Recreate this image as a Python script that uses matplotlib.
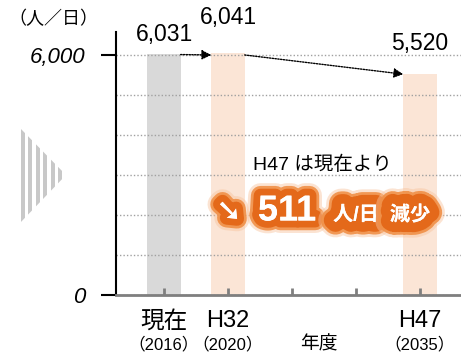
import matplotlib
matplotlib.use("Agg")
import matplotlib.pyplot as plt
import matplotlib.patheffects as pe
from matplotlib.patches import Polygon, Rectangle
from matplotlib.ticker import MultipleLocator

FONT = ["Liberation Sans", "Noto Sans CJK JP", "DejaVu Sans"]
plt.rcParams["font.family"] = FONT

# slots on the year axis (5 ticks), bars only on three of them
positions = [0, 1, 4]
values = [6031, 6041, 5520]
value_labels = ["6,031", "6,041", "5,520"]
bar_colors = ["#d9d9d9", "#fbe5d6", "#fbe5d6"]
tick_slots = [0, 1, 2, 3, 4]
top_labels = ["現在", "H32", "H47"]
year_labels = ["（2016）", "（2020）", "（2035）"]
y_ticks = [0, 6000]
y_tick_labels = ["0", "6,000"]
grid_step = 1000
decrease = 511

W, H = 461, 354
fig = plt.figure(figsize=(W / 100, H / 100), dpi=100)
ax = fig.add_axes([116 / W, 59 / H, 345 / W, 263 / H])

ax.bar(positions, values, width=0.52, color=bar_colors, zorder=1)

ax.set_xlim(-0.75, -0.75 + 345 / 64)
ax.set_ylim(0, 6575)

# spines / ticks
for s in ["top", "right"]:
    ax.spines[s].set_visible(False)
ax.spines["left"].set_color("black")
ax.spines["left"].set_linewidth(1.5)
ax.spines["bottom"].set_color("#7f7f7f")
ax.spines["bottom"].set_linewidth(2)

ax.set_xticks(tick_slots)
ax.set_xticklabels([])
ax.tick_params(axis="x", direction="in", length=5, width=2, color="#7f7f7f")

ax.set_yticks(y_ticks)
ax.set_yticklabels(y_tick_labels, fontsize=16, style="italic")
ax.tick_params(axis="y", direction="out", length=11, width=1.5, pad=11)
ax.yaxis.set_minor_locator(MultipleLocator(grid_step))
ax.tick_params(axis="y", which="minor", length=0)
ax.grid(which="both", axis="y", linestyle=(0, (1, 1.5)), color="#a0a0a0", linewidth=1)

# value labels above the bars
offsets = [14, 26, 22]
for x, v, lab, off in zip(positions, values, value_labels, offsets):
    ax.annotate(lab, (x, v), xytext=(0, off), textcoords="offset points",
                ha="center", va="center", fontsize=16.5)

# dotted arrows between the bars
arrow = dict(arrowstyle="-|>", linestyle=(0, (1, 1)), color="black", lw=1.0,
             mutation_scale=14, shrinkA=0, shrinkB=0)
ax.annotate("", xy=(positions[1] - 0.26, values[1] - 40), xytext=(positions[0] + 0.26, values[0] - 20),
            arrowprops=arrow)
ax.annotate("", xy=(positions[2] - 0.26, values[2]), xytext=(positions[1] + 0.26, values[1] - 40),
            arrowprops=arrow)

# category labels under the axis
xt = ax.get_xaxis_transform()
for x, t, yl in zip(positions, top_labels, year_labels):
    ax.text(x, -0.1, t, transform=xt, ha="center", va="center", fontsize=17)
    ax.text(x, -0.19, yl, transform=xt, ha="center", va="center", fontsize=12)
ax.text(2.42, -0.19, "年度", transform=xt, ha="center", va="center", fontsize=13.5)

# overlay in pixel coordinates for the decorations
ov = fig.add_axes([0, 0, 1, 1], zorder=5)
ov.set_xlim(0, W)
ov.set_ylim(H, 0)
ov.axis("off")

ov.text(8, 19, "（人／日）", ha="left", va="center", fontsize=13)

# striped triangle on the left
tri = Polygon([(20, 128), (20, 223), (66, 175)], closed=True, facecolor="none", edgecolor="none")
ov.add_patch(tri)
x0 = 20.5
while x0 < 66:
    r = Rectangle((x0, 120), 4.2, 110, facecolor="#c8c8c8", edgecolor="none")
    ov.add_patch(r)
    r.set_clip_path(tri)
    x0 += 7.5

ov.text(322, 165, "H47 は現在より", ha="center", va="center", fontsize=14)

# orange glow behind the white figure
def glow(w):
    return [pe.withStroke(linewidth=w + 8, foreground="#f8c39c", alpha=0.45),
            pe.withStroke(linewidth=w + 4, foreground="#f09047", alpha=0.9),
            pe.withStroke(linewidth=w, foreground="#e4691a"),
            pe.Normal()]

ov.text(229, 212, "➘", ha="center", va="center", fontsize=22, color="white",
        fontweight="bold", family=["DejaVu Sans"], path_effects=glow(10))
ov.text(287, 211, str(decrease), ha="center", va="center", fontsize=26, color="white",
        fontweight="bold", path_effects=glow(10))
ov.text(356, 215, "人/日", ha="center", va="center", fontsize=14.5, color="white",
        fontweight="bold", path_effects=glow(14))
ov.text(410, 215, "減少", ha="center", va="center", fontsize=14.5, color="white",
        fontweight="bold", path_effects=glow(14))

fig.savefig("out.png", dpi=100)
